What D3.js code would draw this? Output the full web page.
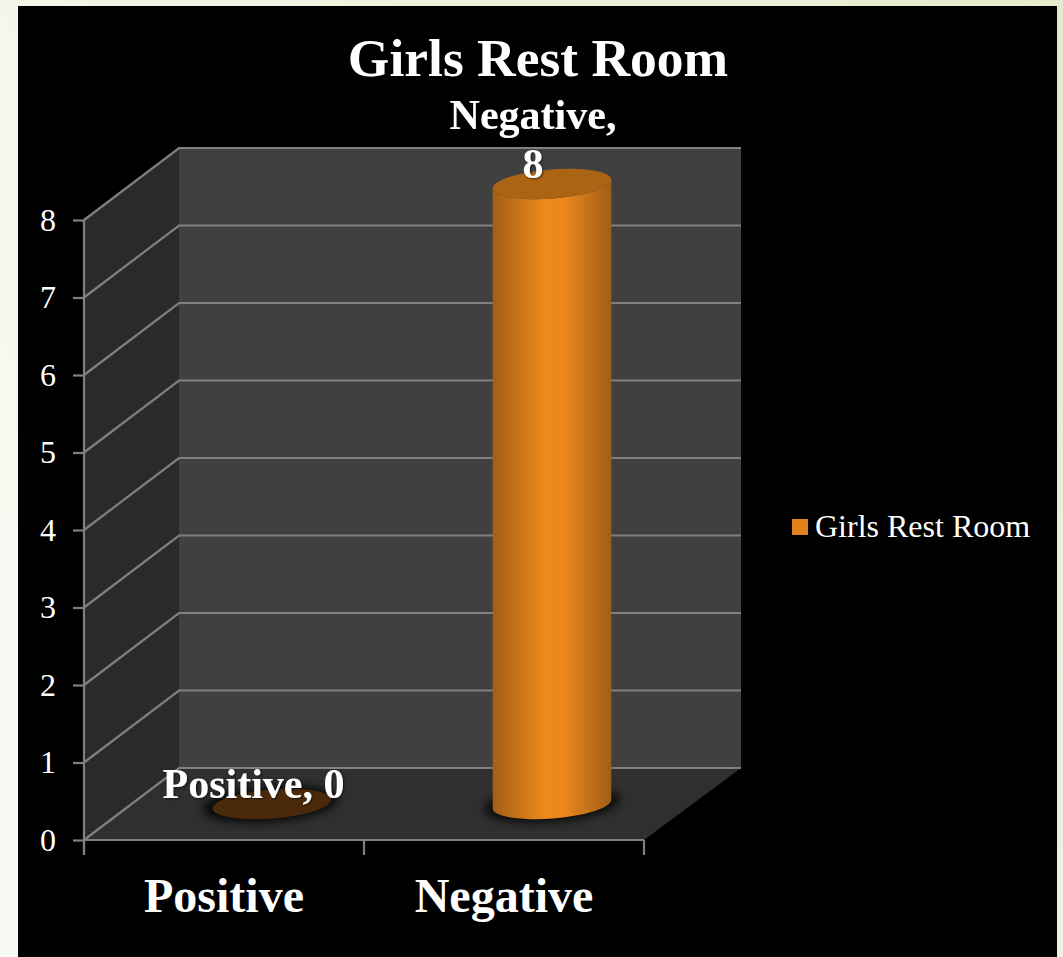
<!DOCTYPE html>
<html>
<head>
<meta charset="utf-8">
<script src="https://cdn.jsdelivr.net/npm/d3@7"></script>
<style>
html, body { margin: 0; padding: 0; background: #f6f8ec; overflow: hidden; }
svg { display: block; }
text { font-family: "Liberation Serif", serif; fill: #fff; }
</style>
</head>
<body>
<svg id="chart" width="1063" height="957"></svg>
<script>
// Data
const chartTitle = "Girls Rest Room";
const categories = ["Positive", "Negative"];
const values = [0, 8];
const yTicks = [0, 1, 2, 3, 4, 5, 6, 7, 8];

const svg = d3.select("#chart");

// depth of the fake 3d box
const depthX = 95, depthY = -72;
const backRight = 741; // back wall is a touch wider than the floor front
const y = d3.scaleLinear().domain([0, 8]).range([840, 220]);
const x = d3.scaleBand().domain(categories).range([84, 644]);
const x0 = x.range()[0], x1 = x.range()[1], y0 = y(0), y8 = y(8);

const defs = svg.append("defs");

const pageGrad = defs.append("linearGradient").attr("id", "pageGrad")
    .attr("x1", "0").attr("y1", "0.6").attr("x2", "1").attr("y2", "0");
pageGrad.append("stop").attr("offset", "0").attr("stop-color", "#f9faf3");
pageGrad.append("stop").attr("offset", "1").attr("stop-color", "#e3ebcc");

const barGrad = defs.append("linearGradient").attr("id", "barGrad");
[[0, "#a25f14"], [0.45, "#ee8a1c"], [0.6, "#ec881c"], [1, "#a05e14"]]
    .forEach(d => barGrad.append("stop").attr("offset", d[0]).attr("stop-color", d[1]));

defs.append("filter").attr("id", "blur").attr("x", "-30%").attr("y", "-60%").attr("width", "160%").attr("height", "220%")
    .append("feGaussianBlur").attr("stdDeviation", 5);

const textShadow = defs.append("filter").attr("id", "textShadow");
textShadow.append("feDropShadow").attr("dx", 1).attr("dy", 1).attr("stdDeviation", 1)
    .attr("flood-color", "#000").attr("flood-opacity", 0.6);

// page + black panel
svg.append("rect").attr("width", 1063).attr("height", 957).attr("fill", "url(#pageGrad)");
svg.append("rect").attr("x", 18).attr("y", 6).attr("width", 1039).attr("height", 951).attr("fill", "#000");

// walls
const poly = (pts, fill) => svg.append("polygon").attr("points", pts.map(p => p.join(",")).join(" ")).attr("fill", fill);
poly([[x0 + depthX, y8 + depthY], [backRight, y8 + depthY], [backRight, y0 + depthY], [x0 + depthX, y0 + depthY]], "#404040");
poly([[x0, y8], [x0 + depthX, y8 + depthY], [x0 + depthX, y0 + depthY], [x0, y0]], "#2a2a2a");
poly([[x0, y0], [x0 + depthX, y0 + depthY], [backRight, y0 + depthY], [x1, y0]], "#2f2f2f");

// gridlines
const gridColor = "#808080";
const grid = svg.append("g").attr("fill", "none").attr("stroke", gridColor).attr("stroke-width", 2.2);
grid.selectAll("polyline").data(yTicks).join("polyline")
    .attr("points", d => `${x0},${y(d)} ${x0 + depthX},${y(d) + depthY} ${backRight},${y(d) + depthY}`);

// floor front edge is drawn by the x axis, y axis line here
const yAxis = svg.append("g").attr("transform", `translate(${x0},0)`)
    .call(d3.axisLeft(y).tickValues(yTicks).tickSize(11).tickPadding(17).tickFormat(d3.format("d")));
yAxis.selectAll("line, path").attr("stroke", gridColor).attr("stroke-width", 2.2);
yAxis.select("path").attr("d", `M0,${y8}V${y0 + 15}`);
yAxis.selectAll("text").attr("font-size", 32).attr("fill", "#fff");

const xAxis = svg.append("g").attr("transform", `translate(0,${y0})`);
xAxis.append("line").attr("x1", x0).attr("x2", x1).attr("stroke", gridColor).attr("stroke-width", 2.2);
xAxis.selectAll(".tick").data([...categories.map(c => x(c)), x1]).join("line").attr("class", "tick")
    .attr("x1", d => d).attr("x2", d => d).attr("y1", 0).attr("y2", 15)
    .attr("stroke", gridColor).attr("stroke-width", 2.2);
xAxis.selectAll("text").data(categories).join("text")
    .attr("x", d => x(d) + x.bandwidth() / 2)
    .attr("y", 72)
    .attr("text-anchor", "middle").attr("font-size", 48).attr("font-weight", "bold")
    .text(d => d);

// cylinders, tilted ellipses
const rx = 59.5, ry = 14.5, tilt = -4.5;
const ex = rx * Math.cos(tilt * Math.PI / 180), ey = rx * Math.sin(tilt * Math.PI / 180);
const centerX = d => x(d) + x.bandwidth() / 2 + depthX / 2 + 0.5;
const floorY = v => y(v) + depthY / 2;

const bars = svg.append("g").selectAll("g").data(categories.map((c, i) => ({ c, v: values[i] }))).join("g");

bars.append("ellipse")
    .attr("cx", d => centerX(d.c) + (d.v ? 0 : -2)).attr("cy", floorY(0)).attr("rx", rx + 8).attr("ry", ry + 3)
    .attr("transform", d => `rotate(${tilt} ${centerX(d.c)} ${floorY(0)})`)
    .attr("fill", "#000").attr("fill-opacity", 0.85).attr("filter", "url(#blur)");

bars.filter(d => d.v > 0).append("path")
    .attr("fill", "url(#barGrad)")
    .attr("d", d => {
        const cx = centerX(d.c), top = floorY(d.v), bot = floorY(0);
        return `M${cx - ex},${top - ey}L${cx - ex},${bot - ey}` +
            `A${rx},${ry} ${tilt} 0 0 ${cx + ex},${bot + ey}` +
            `L${cx + ex},${top + ey}` +
            `A${rx},${ry} ${tilt} 0 1 ${cx - ex},${top - ey}Z`;
    });

bars.append("ellipse")
    .attr("cx", d => centerX(d.c)).attr("cy", d => floorY(d.v)).attr("rx", rx).attr("ry", ry)
    .attr("transform", d => `rotate(${tilt} ${centerX(d.c)} ${floorY(d.v)})`)
    .attr("fill", d => d.v > 0 ? "#ab6413" : "#4a2a0a");

// data labels
const labels = svg.append("g").attr("font-weight", "bold").attr("font-size", 42)
    .attr("text-anchor", "middle").attr("filter", "url(#textShadow)");
labels.append("text").attr("x", centerX("Positive") - 18.5).attr("y", floorY(0) - 6)
    .text(`${categories[0]}, ${values[0]}`);
const negLabel = labels.append("text").attr("x", centerX("Negative") - 19);
negLabel.append("tspan").attr("x", centerX("Negative") - 19).attr("y", floorY(8) - 55).text(`${categories[1]},`);
negLabel.append("tspan").attr("x", centerX("Negative") - 19).attr("y", floorY(8) - 6).text(values[1]);

// title
svg.append("text").attr("x", 538).attr("y", 76).attr("text-anchor", "middle")
    .attr("font-size", 53.5).attr("font-weight", "bold").text(chartTitle);

// legend
svg.append("rect").attr("x", 792).attr("y", 519).attr("width", 16).attr("height", 16).attr("fill", "#e0811a");
svg.append("text").attr("x", 815).attr("y", 537).attr("font-size", 32).text(chartTitle);
</script>
</body>
</html>
